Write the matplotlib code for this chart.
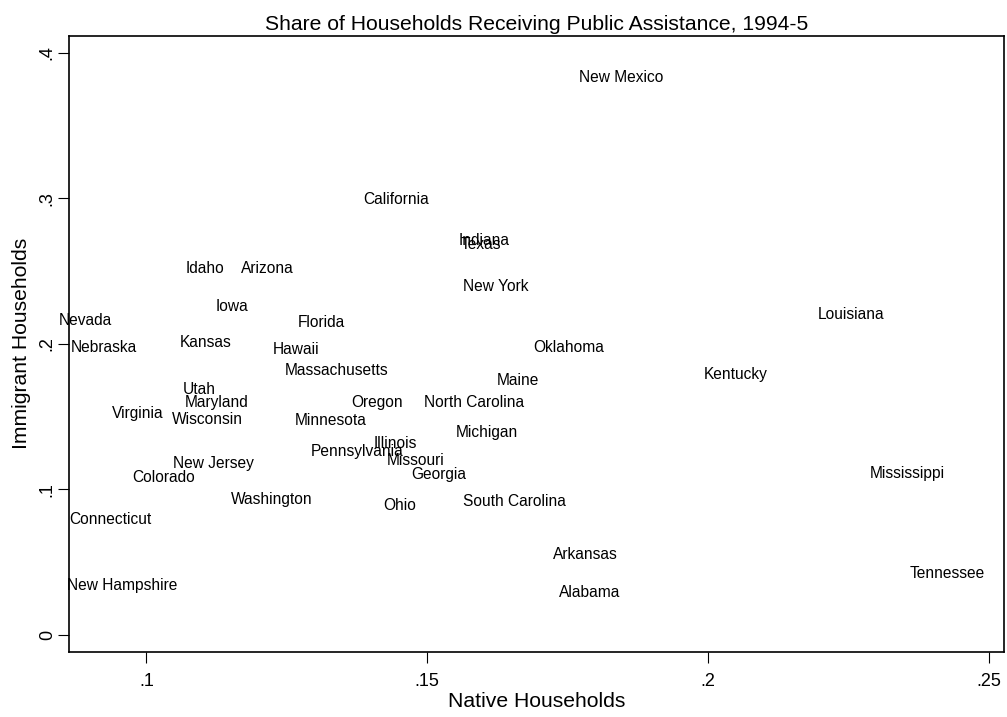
import matplotlib
matplotlib.use("Agg")
import matplotlib.pyplot as plt

states = ["New Mexico", "California", "Indiana", "Texas", "Idaho", "Arizona",
          "New York", "Iowa", "Nevada", "Florida", "Louisiana", "Kansas",
          "Nebraska", "Hawaii", "Oklahoma", "Massachusetts", "Kentucky", "Maine",
          "Utah", "Maryland", "Oregon", "North Carolina", "Virginia", "Wisconsin",
          "Minnesota", "Michigan", "Illinois", "Pennsylvania", "Missouri",
          "New Jersey", "Georgia", "Mississippi", "Colorado", "Washington",
          "Ohio", "South Carolina", "Connecticut", "Arkansas", "Alabama",
          "Tennessee", "New Hampshire"]
native = [0.1846, 0.1444, 0.1602, 0.1595, 0.1105, 0.1215,
          0.1623, 0.1153, 0.0892, 0.1311, 0.2255, 0.1106,
          0.0924, 0.1266, 0.1753, 0.1339, 0.2050, 0.1662,
          0.1095, 0.1125, 0.1410, 0.1584, 0.0984, 0.1109,
          0.1329, 0.1607, 0.1444, 0.1375, 0.1479,
          0.1120, 0.1521, 0.2356, 0.1031, 0.1224,
          0.1451, 0.1655, 0.0936, 0.1781, 0.1790,
          0.2426, 0.0956]
immigrant = [0.3833, 0.2995, 0.2707, 0.2684, 0.2521, 0.2521,
             0.2393, 0.2255, 0.2159, 0.2146, 0.2205, 0.2008,
             0.1974, 0.1965, 0.1974, 0.1814, 0.1793, 0.1747,
             0.1690, 0.1596, 0.1599, 0.1599, 0.1519, 0.1484,
             0.1477, 0.1390, 0.1317, 0.1260, 0.1198,
             0.1182, 0.1106, 0.1111, 0.1079, 0.0930,
             0.0889, 0.0916, 0.0795, 0.0555, 0.0294,
             0.0424, 0.0342]

xticks = [0.10, 0.15, 0.20, 0.25]
xticklabels = [".1", ".15", ".2", ".25"]
yticks = [0.0, 0.1, 0.2, 0.3, 0.4]
yticklabels = ["0", ".1", ".2", ".3", ".4"]

title = "Share of Households Receiving Public Assistance, 1994-5"
xlabel = "Native Households"
ylabel = "Immigrant Households"

plt.rcParams['font.family'] = ['Liberation Sans', 'DejaVu Sans']

fig = plt.figure(figsize=(10.07, 7.17), dpi=100)
fig.patch.set_facecolor("white")
ax = fig.add_axes([0.069, 0.0911, 0.9283, 0.8587])

for name, x, y in zip(states, native, immigrant):
    ax.text(x, y, name, ha="center", va="center", fontsize=11.2, color="black",
            clip_on=False)

ax.set_xlim(0.0863, 0.2528)
ax.set_ylim(-0.0114, 0.4115)
ax.set_xticks(xticks)
ax.set_xticklabels(xticklabels, fontsize=13)
ax.set_yticks(yticks)
ax.set_yticklabels(yticklabels, fontsize=13, rotation=90, va="center")
ax.tick_params(axis="both", direction="out", length=8, width=0.8, color="black")
ax.tick_params(axis="x", pad=7)
ax.tick_params(axis="y", pad=1.8)
for s in ax.spines.values():
    s.set_linewidth(1.2)
    s.set_color("black")

ax.set_xlabel(xlabel, fontsize=15.2, labelpad=2)
ax.set_ylabel(ylabel, fontsize=15.2, labelpad=6)
ax.set_title(title, fontsize=15.2, pad=4)

fig.savefig("out.png", dpi=100, facecolor="white")
